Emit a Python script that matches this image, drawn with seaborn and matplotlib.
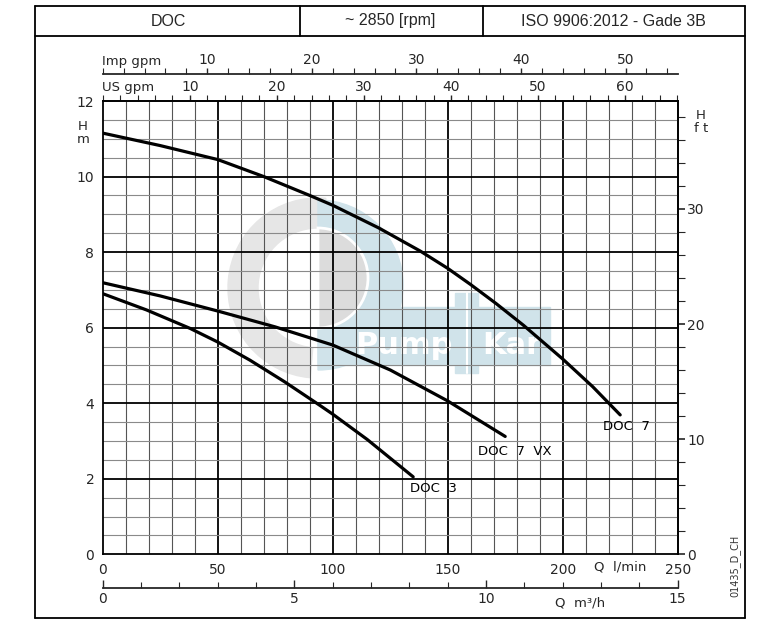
import numpy as np
import pandas as pd
import matplotlib
matplotlib.use("Agg")
import matplotlib.pyplot as plt
from matplotlib.lines import Line2D
from matplotlib.patches import Wedge, Rectangle
from matplotlib.transforms import Affine2D
from matplotlib.ticker import MultipleLocator, FixedLocator
import seaborn as sns

sns.set_style("white")
plt.rcParams['font.family'] = ['DejaVu Sans']

# curve readings (Q in l/min, H in m)
q_doc7 = [0, 25, 50, 70, 90, 100, 120, 138, 150, 160, 171, 183, 200, 213, 225]
h_doc7 = [11.15, 10.82, 10.45, 10.0, 9.5, 9.24, 8.64, 8.03, 7.57, 7.14, 6.64, 6.06, 5.17, 4.44, 3.69]

q_vx = [0, 25, 50, 75, 100, 125, 150, 175]
h_vx = [7.19, 6.84, 6.44, 6.02, 5.54, 4.88, 4.06, 3.12]

q_doc3 = [0, 19, 38, 50, 64, 79, 94, 100, 115, 135]
h_doc3 = [6.9, 6.47, 5.98, 5.62, 5.14, 4.57, 3.96, 3.71, 3.04, 2.05]

curve_names = ["DOC 7", "DOC 7 VX", "DOC 3"]
label_pos = [(217.5, 3.37), (163, 2.73), (133.6, 1.73)]
header = ["DOC", "~ 2850 [rpm]", "ISO 9906:2012 - Gade 3B"]

df = pd.concat([
    pd.DataFrame({"Q": q_doc7, "H": h_doc7, "pump": "DOC 7"}),
    pd.DataFrame({"Q": q_vx, "H": h_vx, "pump": "DOC 7 VX"}),
    pd.DataFrame({"Q": q_doc3, "H": h_doc3, "pump": "DOC 3"}),
])

W, H = 778, 626
fig = plt.figure(figsize=(W / 100, H / 100), dpi=100)
x0, x1, y0, y1 = 102.7, 677.7, 101, 554.3
ax = fig.add_axes([x0 / W, 1 - y1 / H, (x1 - x0) / W, (y1 - y0) / H])

# grid
for q in range(10, 250, 10):
    if q % 50 == 0:
        ax.axvline(q, color="black", lw=1.3, zorder=1)
    else:
        ax.axvline(q, color="#555555", lw=0.8, zorder=1)
for h in np.arange(0.5, 12, 0.5):
    if h % 2 == 0:
        ax.axhline(h, color="black", lw=1.3, zorder=1)
    else:
        ax.axhline(h, color="#8a8a8a", lw=0.8, zorder=1)

sns.lineplot(data=df, x="Q", y="H", hue="pump", palette=["black"] * 3,
             estimator=None, sort=True, lw=2.3, legend=False, ax=ax, zorder=3)

for name, (qx, hy) in zip(curve_names, label_pos):
    ax.text(qx, hy, name.replace(" ", "  "), fontsize=9.5, ha="left", va="center",
            color="black", zorder=4)

ax.set_xlim(0, 250)
ax.set_ylim(0, 12)
ax.set_xlabel("")
ax.set_ylabel("")
ax.xaxis.set_major_locator(MultipleLocator(50))
ax.yaxis.set_major_locator(MultipleLocator(2))
ax.tick_params(axis="both", direction="out", length=4, width=1.2, labelsize=10, pad=2)
for s in ax.spines.values():
    s.set_color("black")
    s.set_linewidth(1.3)

# watermark (logo), in image pixel coordinates
px = Affine2D().scale(1, -1).translate(0, H)
blue = "#d0e3ea"
ax.add_patch(Wedge((318, 288), 90, 95, 275, width=30, color="#e6e6e6", transform=px, zorder=0.5))
ax.add_patch(Wedge((318, 285), 85, -90, 90, color=blue, transform=px, zorder=0.6))
ax.add_patch(Rectangle((318, 285), 3, 80, color=blue, transform=px, zorder=0.6))
ax.add_patch(Wedge((318, 278), 50, -90, 90, color="#dcdcdc", ec="white", lw=2, transform=px, zorder=0.7))
ax.add_patch(Rectangle((318, 307), 232, 58, color=blue, transform=px, zorder=0.6))
ax.add_patch(Rectangle((455, 293), 23, 80, color=blue, transform=px, zorder=0.6))
ax.add_artist(Line2D([467, 467], [293, 373], color="white", lw=1.5, transform=px, zorder=0.8))
ax.text(404, 345, "Pump", transform=px, fontsize=22, fontweight="bold", color="white",
        ha="center", va="center", zorder=0.9)
ax.text(512, 345, "Kar", transform=px, fontsize=22, fontweight="bold", color="white",
        ha="center", va="center", zorder=0.9)

# right axis in ft
ax_ft = ax.secondary_yaxis("right", functions=(lambda m: m / 0.3048, lambda f: f * 0.3048))
ax_ft.yaxis.set_major_locator(FixedLocator([0, 10, 20, 30]))
ax_ft.yaxis.set_minor_locator(FixedLocator(list(range(0, 40, 2))))
ax_ft.tick_params(which="major", direction="out", length=5, width=1.2, labelsize=10, pad=2)
ax_ft.tick_params(which="minor", direction="out", length=5, width=0.8)
ax_ft.spines["right"].set_linewidth(1.3)

# top US gpm axis
ax_us = ax.secondary_xaxis("top", functions=(lambda q: q * 0.264172, lambda g: g / 0.264172))
ax_us.xaxis.set_major_locator(FixedLocator([10, 20, 30, 40, 50, 60]))
ax_us.xaxis.set_minor_locator(FixedLocator(list(range(0, 67, 2))))
ax_us.tick_params(which="major", direction="out", length=4, width=1, labelsize=10, pad=1)
ax_us.tick_params(which="minor", direction="out", length=4, width=0.8)
ax_us.spines["top"].set_linewidth(1.3)

# Imp gpm axis
ax_imp = ax.secondary_xaxis((y1 - 74) / (y1 - y0), functions=(lambda q: q * 0.219969, lambda g: g / 0.219969))
ax_imp.xaxis.set_major_locator(FixedLocator([10, 20, 30, 40, 50]))
ax_imp.xaxis.set_minor_locator(FixedLocator(list(range(0, 56, 2))))
ax_imp.tick_params(which="major", direction="out", length=4, width=1, labelsize=10, pad=1)
ax_imp.tick_params(which="minor", direction="out", length=4, width=0.8)
ax_imp.spines["top"].set_linewidth(1.3)

# bottom m3/h axis
ax_m3 = ax.secondary_xaxis((y1 - 588) / (y1 - y0), functions=(lambda q: q * 0.06, lambda m: m / 0.06))
ax_m3.xaxis.set_major_locator(FixedLocator([0, 5, 10, 15]))
ax_m3.xaxis.set_minor_locator(FixedLocator(list(range(0, 16))))
ax_m3.tick_params(which="major", direction="in", length=6, width=1, labelsize=10, pad=3)
ax_m3.tick_params(which="minor", direction="in", length=4, width=0.8)
ax_m3.spines["bottom"].set_linewidth(1.3)

# unit labels
ax.text(-0.002, (y1 - 62) / (y1 - y0), "Imp gpm", transform=ax.transAxes, fontsize=9.5, ha="left", va="center")
ax.text(-0.002, (y1 - 88) / (y1 - y0), "US gpm", transform=ax.transAxes, fontsize=9.5, ha="left", va="center")
ax.text(0.9, (y1 - 567) / (y1 - y0), "Q  l/min", transform=ax.transAxes, fontsize=9.5, ha="center", va="center")
ax.text(0.83, (y1 - 603) / (y1 - y0), "Q  m³/h", transform=ax.transAxes, fontsize=9.5, ha="center", va="center")
ax.text((83 - x0) / (x1 - x0), (y1 - 133) / (y1 - y0), "H\nm", transform=ax.transAxes, fontsize=9.5,
        ha="center", va="center", linespacing=1.0)
ax.text((701 - x0) / (x1 - x0), (y1 - 122) / (y1 - y0), "H\nf t", transform=ax.transAxes, fontsize=9.5,
        ha="center", va="center", linespacing=1.0)


def fline(xa, ya, xb, yb, lw=1.3):
    fig.add_artist(Line2D([xa / W, xb / W], [1 - ya / H, 1 - yb / H], color="black", lw=lw))


# outer frame and header
fline(35, 6, 745, 6)
fline(35, 36, 745, 36)
fline(35, 6, 35, 618)
fline(745, 6, 745, 618)
fline(35, 618, 745, 618)
fline(300, 6, 300, 36)
fline(483, 6, 483, 36)
for txt, xc in zip(header, [168, 390, 613]):
    fig.text(xc / W, 1 - 21 / H, txt, fontsize=11.5, ha="center", va="center",
             family=["Liberation Sans", "DejaVu Sans"])

fig.text(735 / W, 1 - 566 / H, "01435_D_CH", fontsize=7, rotation=90, ha="center", va="center",
         color="#333333")

fig.savefig("out.png", dpi=100)
